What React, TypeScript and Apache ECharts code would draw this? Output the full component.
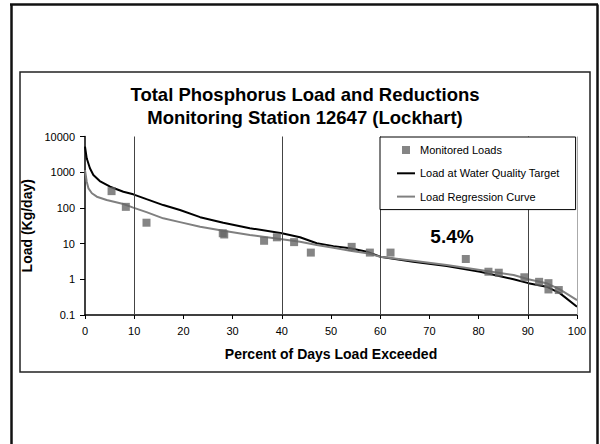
import React, { useEffect, useRef } from "react";
import * as echarts from "echarts";

const titleLines = ["Total Phosphorus Load and Reductions", "Monitoring Station 12647 (Lockhart)"];
const xAxisName = "Percent of Days Load Exceeded";
const yAxisName = "Load (Kg/day)";
const reductionLabel = "5.4%";
const regimeBreaks = [10, 40, 60, 90];

// Monitored loads: [percent of days exceeded, load kg/day]
const monitoredX = [5.4, 8.3, 12.5, 28.0, 28.3, 36.4, 39.0, 42.5, 45.9, 54.2, 57.9, 62.1, 77.4, 82.0, 84.1, 89.3, 92.3, 94.2, 94.2, 96.3];
const monitoredY = [295, 107, 38.5, 19.5, 18, 12, 15, 11, 5.6, 8.1, 5.6, 5.6, 3.7, 1.63, 1.53, 1.14, 0.85, 0.78, 0.52, 0.5];

// Load at water quality target curve
const targetX = [0, 0.35, 1.0, 1.7, 3.0, 5.1, 7.8, 9.8, 12.5, 15.9, 19.3, 23.4, 28.1, 33.5, 40, 43.7, 47.1, 50.5, 53.9, 57.3, 60, 66.7, 73.5, 80.3, 87.1, 90.1, 93.8, 96.5, 100];
const targetY = [5180, 2450, 1290, 832, 566, 392, 283, 240, 176, 120, 87, 55, 38.5, 27, 19.5, 15, 10.2, 8.5, 7.4, 5.9, 4.3, 3.1, 2.35, 1.63, 1.0, 0.78, 0.62, 0.41, 0.17];

// Load regression curve
const regressionX = [0, 0.35, 0.7, 1.4, 2.4, 4.4, 7.8, 9.8, 12.5, 15.9, 19.3, 23.4, 28.1, 33.5, 40, 43.7, 47.1, 50.5, 53.9, 57.3, 60, 66.7, 73.5, 80.3, 87.1, 90.1, 93.8, 96.5, 100];
const regressionY = [1150, 540, 353, 257, 206, 166, 129, 102, 76, 51, 40, 29.5, 23, 17.4, 13.2, 11.2, 9.1, 7.7, 6.3, 5.4, 4.3, 3.3, 2.5, 1.82, 1.32, 1.0, 0.78, 0.52, 0.26];

const FONT = "'Liberation Sans', Arial, Helvetica, sans-serif";

export default function App() {
  const ref = useRef<HTMLDivElement>(null);
  useEffect(() => {
    if (!ref.current) return;
    const chart = echarts.init(ref.current, null, { renderer: "svg" });
    const zip = (xs: number[], ys: number[]) => xs.map((x, i) => [x, ys[i]]);
    chart.setOption({
      animation: false,
      backgroundColor: "#ffffff",
      textStyle: { fontFamily: FONT },
      title: {
        text: titleLines.join("\n"),
        left: 300,
        top: 78,
        textAlign: "center",
        textStyle: { fontFamily: FONT, fontSize: 18.5, fontWeight: "bold", color: "#000", lineHeight: 23 },
      },
      graphic: [
        { type: "line", shape: { x1: 11.5, y1: 4.5, x2: 11.5, y2: 444 }, style: { stroke: "#111", lineWidth: 2.5 }, silent: true },
        { type: "line", shape: { x1: 10, y1: 4.5, x2: 598, y2: 4.5 }, style: { stroke: "#111", lineWidth: 2.5 }, silent: true },
        { type: "line", shape: { x1: 597.5, y1: 4.5, x2: 597.5, y2: 444 }, style: { stroke: "#111", lineWidth: 2.5 }, silent: true },
        { type: "rect", shape: { x: 20, y: 72, width: 570, height: 300 }, style: { fill: "none", stroke: "#222", lineWidth: 1.5 }, silent: true },
        {
          type: "text",
          x: 452,
          y: 236,
          style: { text: reductionLabel, font: `bold 19px ${FONT}`, fill: "#000", textAlign: "center", textVerticalAlign: "middle" },
          silent: true,
        },
      ],
      legend: {
        orient: "vertical",
        left: 380,
        top: 137,
        padding: [6, 16, 6, 17],
        itemGap: 9.3,
        itemWidth: 18,
        itemHeight: 8,
        backgroundColor: "#ffffff",
        borderColor: "#000",
        borderWidth: 1,
        borderRadius: 0,
        z: 10,
        textStyle: { fontFamily: FONT, fontSize: 11, color: "#000", lineHeight: 14 },
        data: [
          { name: "Monitored Loads", icon: "path://M0,0H1V1H0Z" },
          { name: "Load at Water Quality Target", icon: "path://M0,0H18V2H0Z", itemStyle: { color: "#000" } },
          { name: "Load Regression Curve", icon: "path://M0,0H18V2H0Z", itemStyle: { color: "#808080" } },
        ],
      },
      grid: { left: 85, right: 23, top: 136.5, bottom: 129, containLabel: false },
      xAxis: {
        type: "value",
        min: 0,
        max: 100,
        interval: 10,
        name: xAxisName,
        nameLocation: "middle",
        nameGap: 32,
        nameTextStyle: { fontFamily: FONT, fontSize: 14, fontWeight: "bold", color: "#000", verticalAlign: "top" },
        axisLine: { lineStyle: { color: "#000", width: 1.5 } },
        axisTick: { show: true, length: 4, inside: false, lineStyle: { color: "#000" } },
        axisLabel: { fontFamily: FONT, fontSize: 11, color: "#000", margin: 10 },
        splitLine: { show: false },
      },
      yAxis: {
        type: "log",
        logBase: 10,
        min: 0.1,
        max: 10000,
        name: yAxisName,
        nameLocation: "middle",
        nameGap: 39,
        nameRotate: 90,
        nameTextStyle: { fontFamily: FONT, fontSize: 14, fontWeight: "bold", color: "#000" },
        axisLine: { show: true, lineStyle: { color: "#000", width: 1.5 } },
        axisTick: { show: true, length: 5, inside: false, lineStyle: { color: "#000" } },
        axisLabel: {
          fontFamily: FONT,
          fontSize: 11,
          color: "#000",
          margin: 10,
          formatter: (v: number) => String(Math.round(v * 10) / 10),
        },
        splitLine: { show: false },
        minorTick: { show: false },
      },
      series: [
        {
          name: "Monitored Loads",
          type: "scatter",
          symbol: "rect",
          symbolSize: 8,
          itemStyle: { color: "#666666" },
          data: zip(monitoredX, monitoredY),
          z: 5,
          markLine: {
            silent: true,
            symbol: "none",
            label: { show: false },
            lineStyle: { color: "#444", width: 1, type: "solid" },
            data: [
              ...regimeBreaks.map((v) => ({ xAxis: v })),
              { xAxis: 100, lineStyle: { color: "#aaa", width: 1, type: "solid" } },
            ],
          },
        },
        {
          name: "Load at Water Quality Target",
          type: "line",
          symbol: "none",
          lineStyle: { color: "#000", width: 2 },
          itemStyle: { color: "#000" },
          data: zip(targetX, targetY),
          z: 3,
        },
        {
          name: "Load Regression Curve",
          type: "line",
          symbol: "none",
          lineStyle: { color: "#808080", width: 2 },
          itemStyle: { color: "#808080" },
          data: zip(regressionX, regressionY),
          z: 4,
        },
      ],
    });
    return () => chart.dispose();
  }, []);
  return <div ref={ref} style={{ position: "fixed", left: 0, top: 0, width: 600, height: 444 }} />;
}
